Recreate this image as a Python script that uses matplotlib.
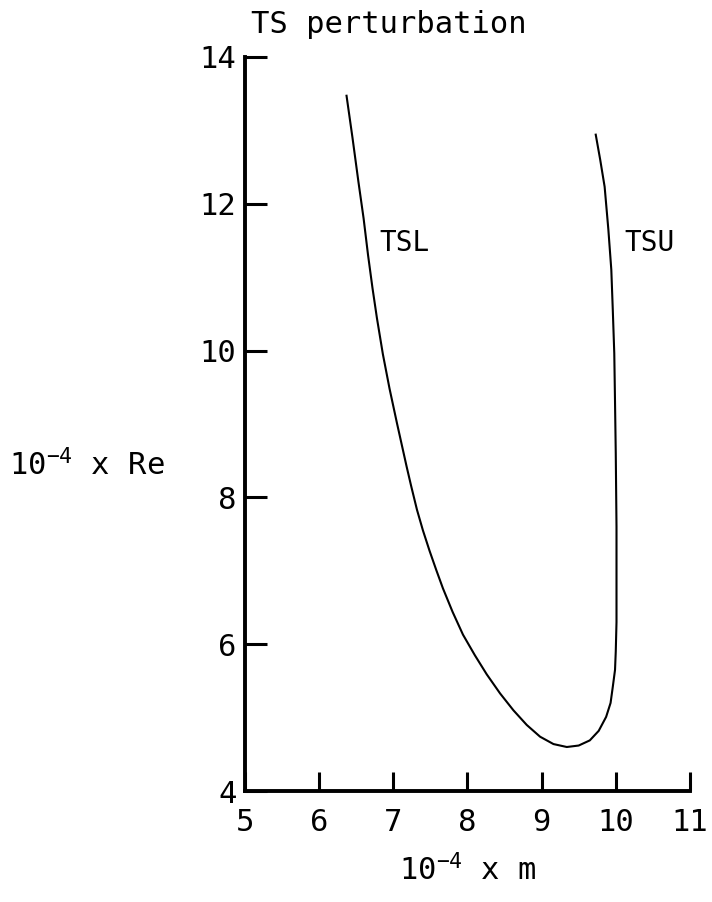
#!/usr/bin/env python3
import matplotlib
matplotlib.use("Agg")
import matplotlib.pyplot as plt

# neutral curve (10^-4 x m, 10^-4 x Re)
m_vals = [6.37, 6.45, 6.53, 6.60, 6.66, 6.72, 6.78, 6.86, 6.95, 7.05, 7.18,
          7.24, 7.32, 7.40, 7.49, 7.58, 7.67, 7.80, 7.94, 8.10, 8.26, 8.44, 8.62,
          8.80, 8.98, 9.16, 9.34, 9.50, 9.65, 9.77, 9.87, 9.93, 9.96, 9.99,
          10.00, 10.01, 10.01, 10.01, 10.00, 9.99, 9.98, 9.96, 9.94, 9.90,
          9.85, 9.79, 9.73]
re_vals = [13.47, 12.90, 12.30, 11.80, 11.30, 10.85, 10.44, 9.95, 9.48, 9.01, 8.42,
           8.16, 7.83, 7.55, 7.27, 7.01, 6.76, 6.44, 6.13, 5.85, 5.59, 5.33, 5.10,
           4.90, 4.74, 4.64, 4.60, 4.62, 4.69, 4.82, 5.01, 5.20, 5.42, 5.65,
           5.90, 6.30, 6.65, 7.60, 8.60, 9.30, 9.96, 10.55, 11.10, 11.65,
           12.23, 12.60, 12.94]

x_ticks = [5, 6, 7, 8, 9, 10, 11]
y_ticks = [4, 6, 8, 10, 12, 14]

plt.rcParams['font.family'] = ['DejaVu Sans Mono']
plt.rcParams['mathtext.fontset'] = 'custom'
plt.rcParams['mathtext.rm'] = 'DejaVu Sans Mono'
plt.rcParams['mathtext.default'] = 'regular'

fig = plt.figure(figsize=(7.12, 9.02), dpi=100)
ax = fig.add_axes([0.344, 0.123, 0.625, 0.814])

ax.plot(m_vals, re_vals, color='black', lw=1.5)

ax.set_xlim(5, 11)
ax.set_ylim(4, 14)
ax.set_xticks(x_ticks)
ax.set_yticks(y_ticks)
ax.spines['top'].set_visible(False)
ax.spines['right'].set_visible(False)
ax.spines['left'].set_linewidth(2.8)
ax.spines['bottom'].set_linewidth(2.8)
ax.tick_params(axis='x', direction='in', length=14, width=2.2, pad=12, labelsize=22)
ax.tick_params(axis='y', direction='in', length=16, width=2.2, pad=6, labelsize=22)

ax.text(6.81, 11.47, 'TSL', fontsize=20, va='center')
ax.text(10.12, 11.47, 'TSU', fontsize=20, va='center')

fig.text(0.352, 0.973, 'TS perturbation', fontsize=22, va='center', ha='left')
fig.text(0.012, 0.484, r'10$^{-4}$ x Re', fontsize=22, va='center', ha='left')
fig.text(0.657, 0.035, r'10$^{-4}$ x m', fontsize=22, va='center', ha='center')

fig.savefig('out.png', dpi=100)
